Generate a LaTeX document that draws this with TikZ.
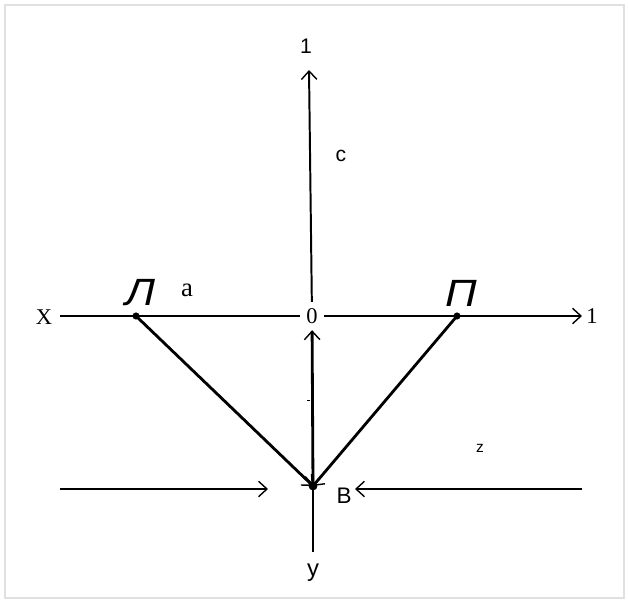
\documentclass[tikz,border=0pt]{standalone}
\usepackage{fontspec}
\setmainfont{Liberation Serif}
\setsansfont{Liberation Sans}
\usepackage{tikz}
\usetikzlibrary{arrows.meta}

\begin{document}
\begin{tikzpicture}[x=0.025cm,y=-0.025cm,
		barb/.style={-{Straight Barb[length=6pt,width=11pt,line width=1pt]}},
		serif lbl/.style={font=\fontsize{16}{16}\selectfont, inner sep=0pt},
		sans lbl/.style={font=\sffamily\fontsize{16}{16}\selectfont, inner sep=0pt},
		big lbl/.style={font=\sffamily\itshape\fontsize{27}{27}\selectfont, inner sep=0pt, xscale=1.15}]
				\useasboundingbox (0,0) rectangle (628,602);
				\draw[black!12, line width=1pt] (5,5) rectangle (624,598);

				% points
				\coordinate (L) at (136,316);
				\coordinate (P) at (457,316);
				\coordinate (B) at (313,486);
				\coordinate (axL) at (60,316);
				\coordinate (axR) at (582,316);
				\coordinate (top) at (309,70);
				\coordinate (bot) at (313,552);
				\coordinate (inL) at (60,489);
				\coordinate (inLend) at (268,489);
				\coordinate (inR) at (582,489);
				\coordinate (inRend) at (355,489);

				\node[serif lbl, inner sep=4.5pt] (O) at (312,316) {0};

				% axes
				\draw[line width=1.4pt] (axL) -- (O);
				\draw[line width=1.4pt, barb] (O) -- (axR);
				\draw[line width=1.4pt, barb] (O) -- (top);
				\draw[line width=1.1pt] (B) -- (bot);
				\draw[line width=0.7pt] (307,400) -- (310,400);

				% forces
				\draw[line width=2pt, barb] (L) -- (B);
				\draw[line width=2pt, barb] (P) -- (B);
				\draw[line width=2pt, {Straight Barb[length=6pt,width=11pt,line width=1pt]}-{Straight Barb[length=6pt,width=11pt,line width=1pt]}] (B) -- (O);
				\draw[line width=1.4pt, barb] (inL) -- (inLend);
				\draw[line width=1.4pt, barb] (inR) -- (inRend);

				\filldraw[black] (L) circle (2.3pt);
				\filldraw[black] (P) circle (2.3pt);
				\filldraw[black] (B) circle (2.9pt);

				% labels
				\node[serif lbl] (lX) at (44,317) {X};
				\node[serif lbl] (l1r) at (592,316) {1};
				\node[serif lbl, font=\fontsize{19}{19}\selectfont] (la) at (187,290) {a};
				\node[big lbl] (lL) at (140,293) {Л};
				\node[big lbl] (lP) at (461,293) {П};
				\node[sans lbl, font=\sffamily\fontsize{15}{15}\selectfont] (l1t) at (306,46) {1};
				\node[sans lbl, font=\sffamily\fontsize{15}{15}\selectfont] (lc) at (341,156) {c};
				\node[sans lbl] (lB) at (344,496) {B};
				\node[sans lbl, font=\sffamily\fontsize{17}{17}\selectfont] (ly) at (313,573) {y};
				\node[sans lbl, font=\sffamily\fontsize{11}{11}\selectfont] (lz) at (480,448) {z};
			\end{tikzpicture}
\end{document}
